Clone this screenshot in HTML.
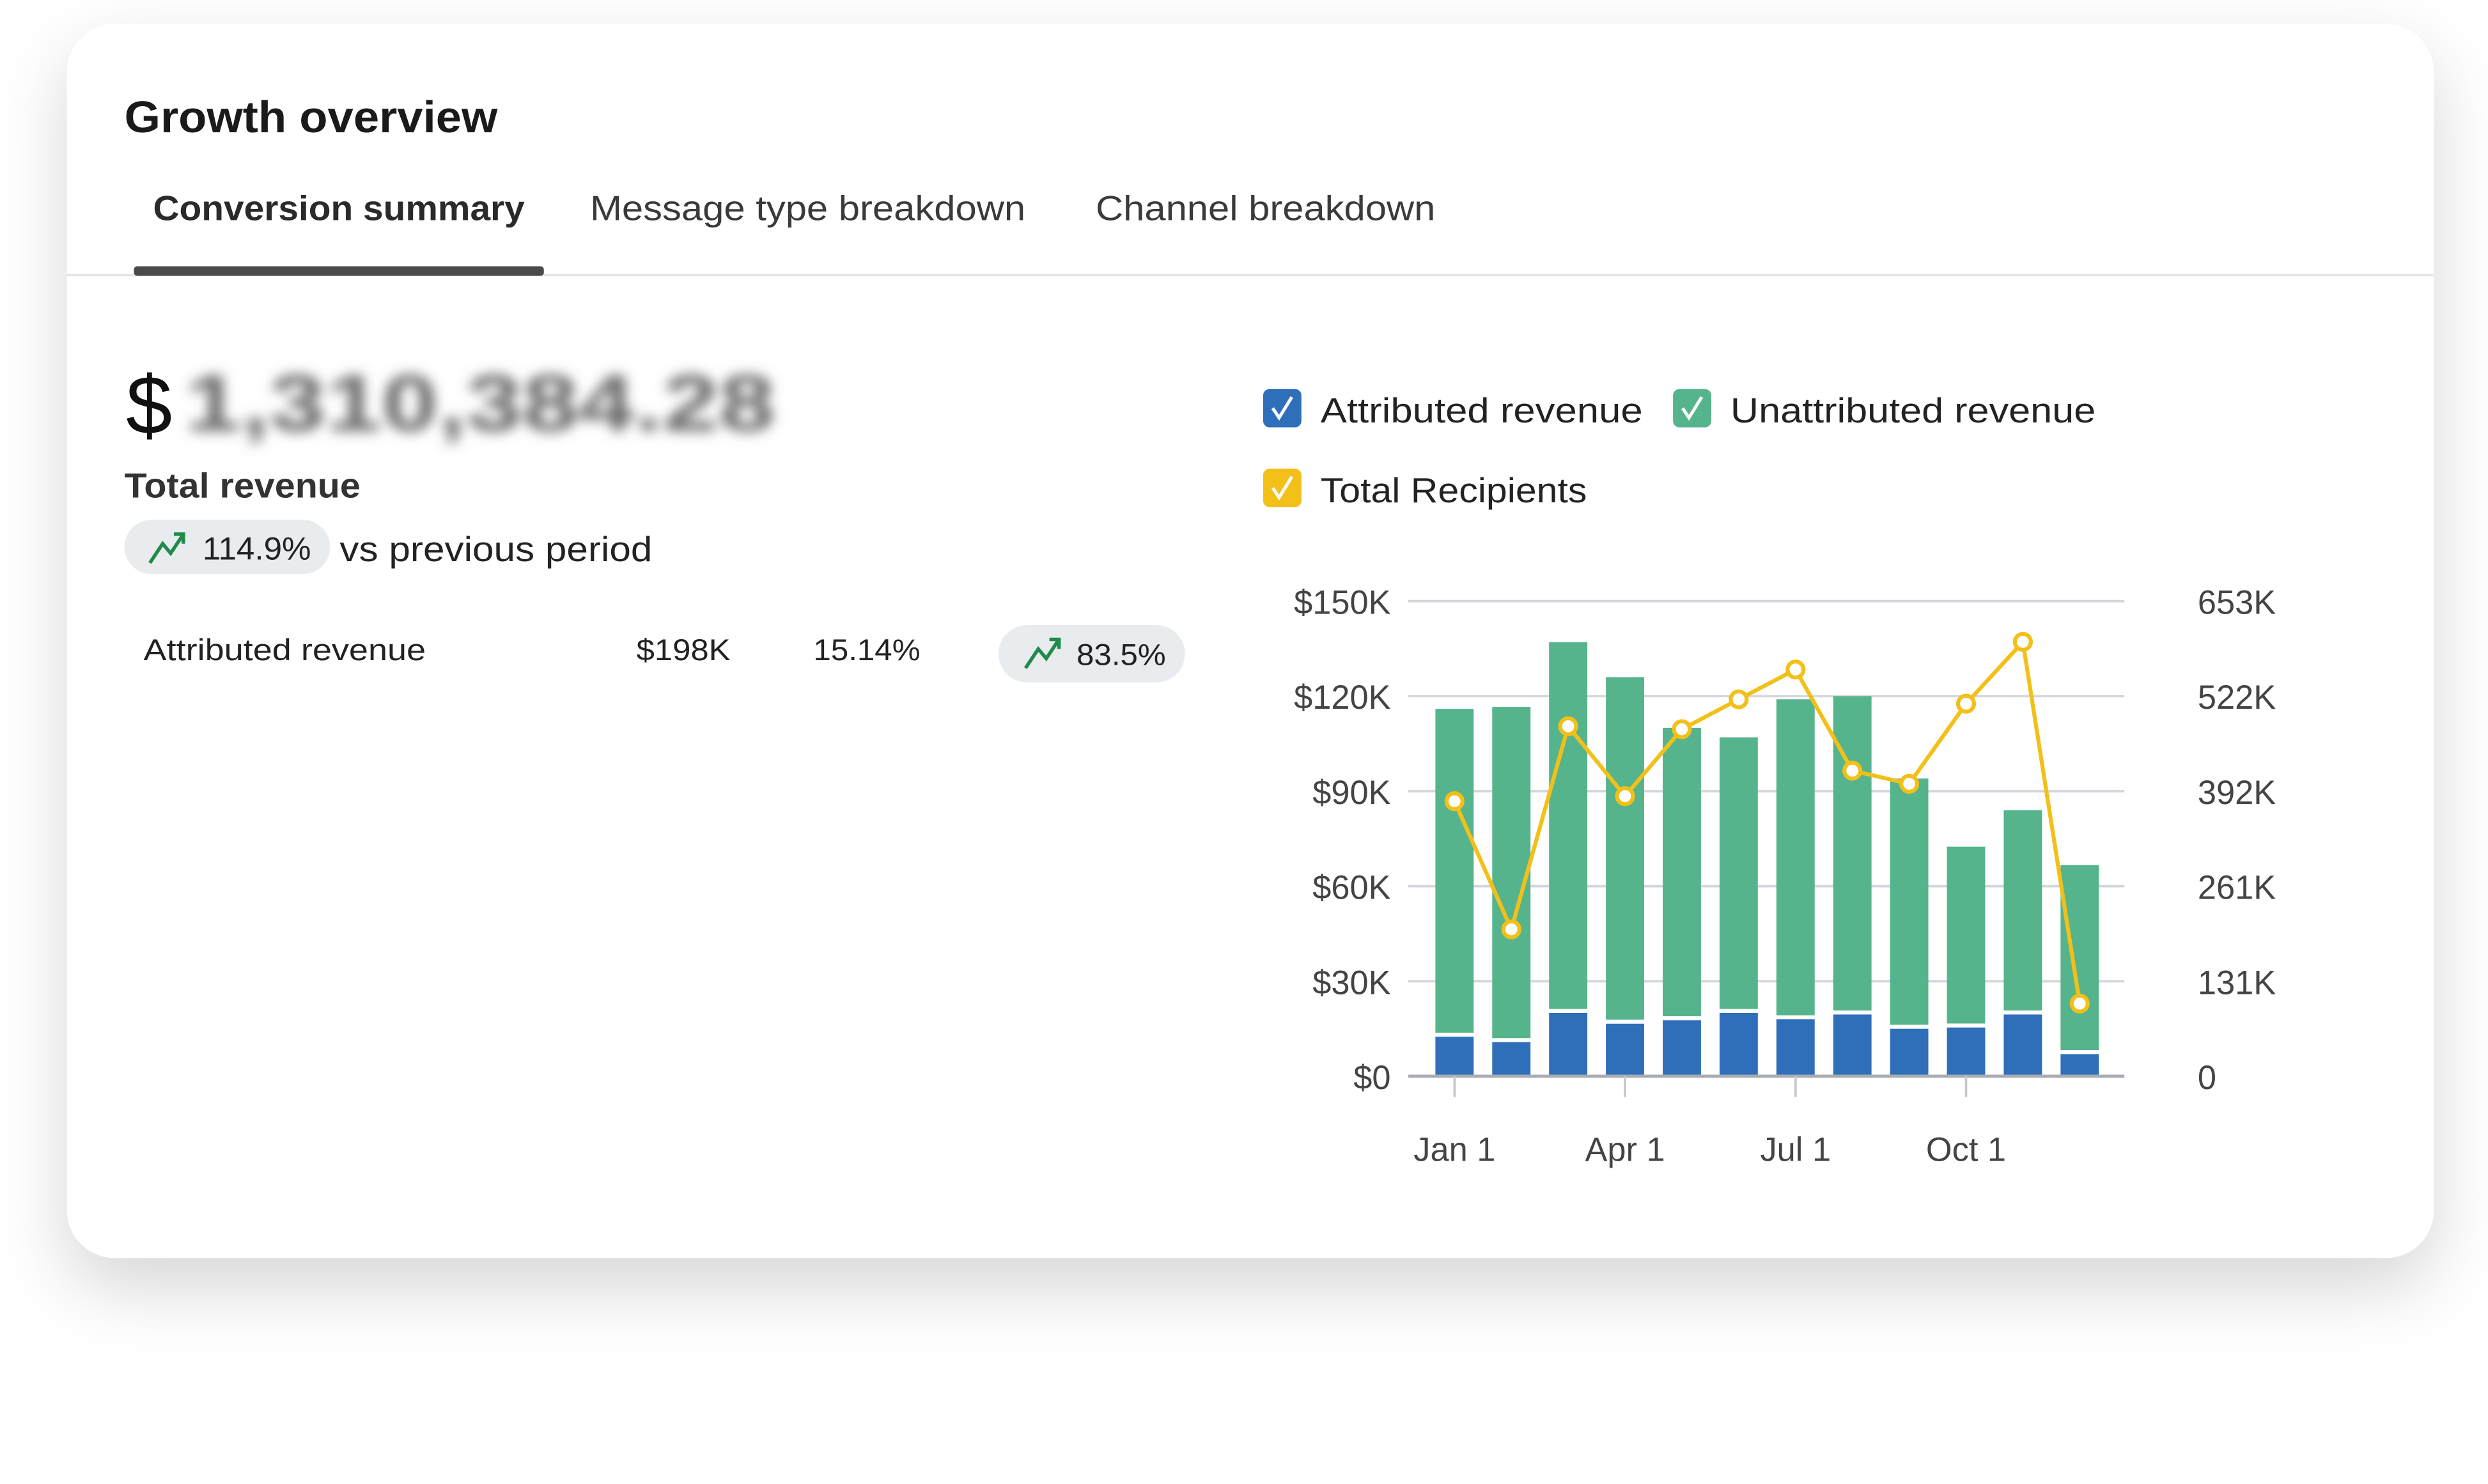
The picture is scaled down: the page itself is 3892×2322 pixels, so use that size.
<!DOCTYPE html>
<html><head><meta charset="utf-8">
<style>
html,body{margin:0;padding:0;background:#fff;width:3892px;height:2322px;overflow:hidden}
svg{display:block}
text{font-family:"Liberation Sans",sans-serif}
</style></head>
<body>
<svg id="root" width="3892" height="2322" viewBox="0 0 1560 930.7" preserveAspectRatio="none" xmlns="http://www.w3.org/2000/svg">
<defs>
<filter id="shadow" x="-10%" y="-10%" width="120%" height="140%">
<feDropShadow dx="0" dy="18" stdDeviation="22" flood-color="#000" flood-opacity="0.16"/>
</filter>
<filter id="blur"><feGaussianBlur stdDeviation="4"/></filter>
</defs>
<rect x="42" y="15" width="1484" height="774" rx="30" fill="#fff" filter="url(#shadow)"/>
<text x="78" y="83" font-size="28" font-weight="600" fill="#1a1a1a" textLength="234" lengthAdjust="spacingAndGlyphs">Growth overview</text>
<text x="96" y="138" font-size="22" font-weight="600" fill="#2a2a2a" textLength="233" lengthAdjust="spacingAndGlyphs">Conversion summary</text>
<text x="370" y="138" font-size="22" fill="#3a3a3a" textLength="273" lengthAdjust="spacingAndGlyphs">Message type breakdown</text>
<text x="687" y="138" font-size="22" fill="#3a3a3a" textLength="213" lengthAdjust="spacingAndGlyphs">Channel breakdown</text>
<line x1="42" y1="172.5" x2="1526" y2="172.5" stroke="#e6e6e6" stroke-width="1.5"/>
<rect x="84" y="167" width="257" height="6" rx="2" fill="#4a4a4a"/>

<text x="79" y="272" font-size="52" fill="#111">$</text>
<text x="116" y="270" font-size="50" font-weight="700" fill="#666" filter="url(#blur)" textLength="370" lengthAdjust="spacingAndGlyphs">1,310,384.28</text>
<text x="78" y="312" font-size="22" font-weight="600" fill="#333" textLength="148" lengthAdjust="spacingAndGlyphs">Total revenue</text>
<rect x="78" y="326" width="129" height="34" rx="17" fill="#e9ecef"/>
<path d="M94 353 L102 341 L107 347 L115 335 M109 335 L115 335 L115 341" stroke="#1f8a4c" stroke-width="2.2" fill="none"/>
<text x="127" y="351" font-size="20" fill="#222" textLength="68" lengthAdjust="spacingAndGlyphs">114.9%</text>
<text x="213" y="352" font-size="22" fill="#222" textLength="196" lengthAdjust="spacingAndGlyphs">vs previous period</text>

<text x="90" y="414" font-size="19" fill="#222" textLength="177" lengthAdjust="spacingAndGlyphs">Attributed revenue</text>
<text x="399" y="414" font-size="19" fill="#222" textLength="59" lengthAdjust="spacingAndGlyphs">$198K</text>
<text x="510" y="414" font-size="19" fill="#222" textLength="67" lengthAdjust="spacingAndGlyphs">15.14%</text>
<rect x="626" y="392" width="117" height="36" rx="18" fill="#e9ecef"/>
<path d="M643 419 L651 407 L656 413 L664 401 M658 401 L664 401 L664 407" stroke="#1f8a4c" stroke-width="2.2" fill="none"/>
<text x="675" y="417" font-size="19" fill="#222" textLength="56" lengthAdjust="spacingAndGlyphs">83.5%</text>

<g>
<g>
<rect x="792" y="244" width="24" height="24" rx="4" fill="#2f6fba"/>
<path d="M798 256 L802 262 L810 249" stroke="#fff" stroke-width="2" fill="none"/>
<text x="828" y="265" font-size="22" fill="#222" textLength="202" lengthAdjust="spacingAndGlyphs">Attributed revenue</text>
</g>
<g>
<rect x="1049" y="244" width="24" height="24" rx="4" fill="#55b48c"/>
<path d="M1055 256 L1059 262 L1067 249" stroke="#fff" stroke-width="2" fill="none"/>
<text x="1085" y="265" font-size="22" fill="#222" textLength="229" lengthAdjust="spacingAndGlyphs">Unattributed revenue</text>
</g>
<g>
<rect x="792" y="294" width="24" height="24" rx="4" fill="#f2c019"/>
<path d="M798 306 L802 312 L810 299" stroke="#fff" stroke-width="2" fill="none"/>
<text x="828" y="315" font-size="22" fill="#222" textLength="167" lengthAdjust="spacingAndGlyphs">Total Recipients</text>
</g>
</g>
<g id="chart"></g>
</svg>
<script>
const categories = ["Jan","Feb","Mar","Apr","May","Jun","Jul","Aug","Sep","Oct","Nov","Dec"];
const attributed = [12.5,10.8,20,16.6,17.7,20,18,19.5,15,15.4,19.5,7];
const totalRevenue = [116,116.6,137,126,110,107,119,120,94,72.5,84,66.7];
const recipients = [378,202,481,385,477,518,559,420,402,512,597,100];
const leftTicks = [0,30,60,90,120,150];
const leftTickLabels = ["$0","$30K","$60K","$90K","$120K","$150K"];
const rightTickLabels = ["0","131K","261K","392K","522K","653K"];
const rightMax = 653;
const xLabels = ["Jan 1","Apr 1","Jul 1","Oct 1"];
const xLabelIdx = [0,3,6,9];

const NS="http://www.w3.org/2000/svg";
const g=document.getElementById('chart');
const L=883,R=1332,T=377,B=675,leftMax=150;
const yL=v=>B-(v/leftMax)*(B-T);
const yR=v=>B-(v/rightMax)*(B-T);
const step=(1304-912)/(categories.length-1);
const xC=i=>912+i*step;
const bw=24;
function mk(tag,attrs){const e=document.createElementNS(NS,tag);for(const k in attrs)e.setAttribute(k,attrs[k]);g.appendChild(e);return e;}

leftTicks.forEach((t,i)=>{
  const y=yL(t);
  if(i>0){const ln=mk('line',{x1:L,x2:R,y1:y,y2:y,stroke:'#d3d6db','stroke-width':1.5});
  
  }
  const tl=mk('text',{x:872,y:y+8,'font-size':21,fill:'#444','text-anchor':'end'});
  tl.textContent=leftTickLabels[i];
  
  
  const tr=mk('text',{x:1378,y:y+8,'font-size':21,fill:'#444'});
  tr.textContent=rightTickLabels[i];
  
  
});

categories.forEach((c,i)=>{
  const x=xC(i)-bw/2;
  const b=mk('rect',{x:x,y:yL(attributed[i]),width:bw,height:B-yL(attributed[i]),fill:'#2f6fba'});
  
  
  const gt=yL(totalRevenue[i]), gb=yL(attributed[i])-2.5;
  const gr=mk('rect',{x:x,y:gt,width:bw,height:Math.max(0,gb-gt),fill:'#55b48c'});
  
  
});

const ax=mk('line',{x1:L,x2:R,y1:B,y2:B,stroke:'#a9adb3','stroke-width':2});



xLabelIdx.forEach((idx,k)=>{
  const x=xC(idx);
  const tk=mk('line',{x1:x,x2:x,y1:B,y2:B+13,stroke:'#c5c8cc','stroke-width':1.5});
  
  
  const t=mk('text',{x:x,y:728,'font-size':21,fill:'#444','text-anchor':'middle'});
  t.textContent=xLabels[k];
  
  
});

const pts=recipients.map((v,i)=>xC(i)+','+yR(v)).join(' ');
const pl=mk('polyline',{points:pts,fill:'none',stroke:'#f2c019','stroke-width':2.5,'stroke-linejoin':'round'});


recipients.forEach((v,i)=>{
  const c=mk('circle',{cx:xC(i),cy:yR(v),r:5,fill:'#fff',stroke:'#f2c019','stroke-width':2.5});
  
  
});
</script>
</body></html>
